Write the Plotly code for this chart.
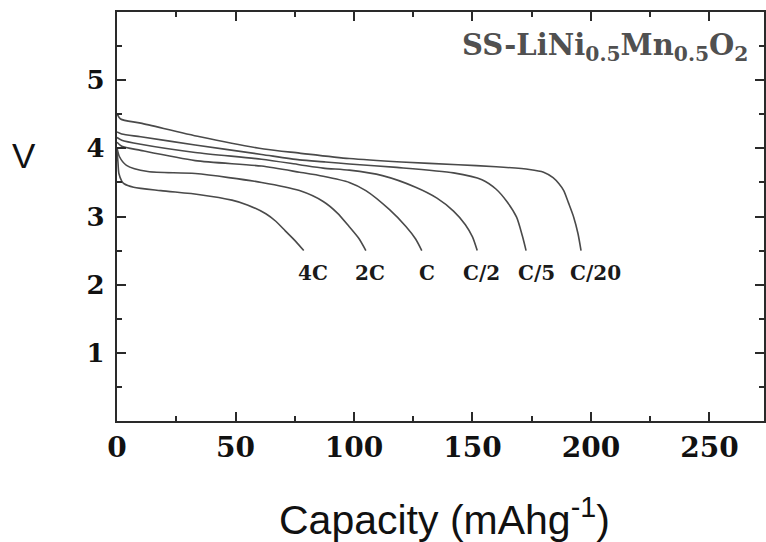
import plotly.graph_objects as go

# Discharge curves of SS-LiNi0.5Mn0.5O2 at different C-rates
rates = ["C/20", "C/5", "C/2", "C", "2C", "4C"]

cap_c20 = [0, 1.5, 10, 35, 62, 77, 98, 120, 144, 160, 174, 180, 184, 186.5, 188.5, 190.5, 192.7, 194.5, 195.8]
v_c20 = [4.51, 4.43, 4.37, 4.17, 3.99, 3.93, 3.85, 3.80, 3.76, 3.73, 3.69, 3.65, 3.57, 3.48, 3.38, 3.20, 2.99, 2.75, 2.50]

cap_c5 = [0, 2, 10, 33, 61, 77, 88, 98, 118, 142, 154, 160, 164.5, 168.6, 171, 172.6]
v_c5 = [4.24, 4.21, 4.17, 4.05, 3.91, 3.83, 3.80, 3.77, 3.72, 3.64, 3.54, 3.40, 3.22, 2.99, 2.72, 2.50]

cap_c2 = [0, 2, 10, 33, 61, 77, 87, 98, 112, 126, 135, 142, 147, 150, 152]
v_c2 = [4.16, 4.12, 4.06, 3.94, 3.84, 3.76, 3.71, 3.68, 3.60, 3.43, 3.27, 3.08, 2.88, 2.70, 2.50]

cap_c1 = [0, 2, 10, 33, 61, 77, 87, 98, 105, 115, 122, 126, 128.6]
v_c1 = [4.09, 4.03, 3.97, 3.82, 3.74, 3.65, 3.59, 3.50, 3.38, 3.10, 2.85, 2.67, 2.50]

cap_2c = [0, 1, 4, 13, 33, 61, 77, 87, 93, 98, 102, 105]
v_2c = [4.01, 3.88, 3.75, 3.66, 3.63, 3.50, 3.38, 3.22, 3.05, 2.85, 2.68, 2.50]

cap_4c = [0, 0.4, 0.8, 2, 3, 7, 18.5, 35, 48.5, 55, 62.8, 67, 71, 75, 78.8]
v_4c = [3.97, 3.80, 3.63, 3.52, 3.48, 3.43, 3.38, 3.32, 3.24, 3.17, 3.04, 2.93, 2.79, 2.65, 2.50]

caps = [cap_c20, cap_c5, cap_c2, cap_c1, cap_2c, cap_4c]
volts = [v_c20, v_c5, v_c2, v_c1, v_2c, v_4c]

# rate labels placed under the curve ends
label_x = [202, 177, 154, 130.8, 106.9, 82.5]
label_y = [2.17] * 6

x_ticks = [0, 50, 100, 150, 200, 250]
x_minor = [25, 75, 125, 175, 225]
y_ticks = [1, 2, 3, 4, 5]
y_minor = [0.5, 1.5, 2.5, 3.5, 4.5, 5.5]

serif = "DejaVu Serif"
sans = "Liberation Sans"
axis_col = "#2a2a2a"
curve_col = "#4a4a4a"

fig = go.Figure()
for name, cx, vy in zip(rates, caps, volts):
    fig.add_trace(go.Scatter(
        x=cx, y=vy, mode="lines", name=name,
        line=dict(color=curve_col, width=1.6, shape="spline", smoothing=0.7),
        showlegend=False, hoverinfo="skip",
    ))

for name, lx, ly in zip(rates, label_x, label_y):
    fig.add_annotation(x=lx, y=ly, xref="x", yref="y", text=name, showarrow=False,
                       font=dict(family=serif, size=20, color="#1a1a1a", weight="bold"),
                       xanchor="center", yanchor="middle")

fig.add_annotation(xref="paper", yref="paper", x=0.978, y=0.915,
                   text="SS-LiNi<sub>0.5</sub>Mn<sub>0.5</sub>O<sub>2</sub>",
                   showarrow=False, xanchor="right", yanchor="middle",
                   font=dict(family=serif, size=29, color="#505050", weight="bold"))

fig.add_annotation(xref="paper", yref="paper", x=-0.1435, y=0.65, text="V",
                   showarrow=False, xanchor="center", yanchor="middle",
                   font=dict(family=sans, size=35, color="#111111"))

fig.add_annotation(xref="paper", yref="paper", x=0.506, y=-0.235,
                   text="Capacity (mAhg<sup>-1</sup>)",
                   showarrow=False, xanchor="center", yanchor="middle",
                   font=dict(family=sans, size=41, color="#111111"))

fig.update_xaxes(
    range=[0, 273], tickmode="array", tickvals=x_ticks,
    ticks="inside", ticklen=9, tickwidth=1.6, tickcolor=axis_col,
    minor=dict(tickmode="array", tickvals=x_minor, ticks="inside", ticklen=5,
               tickwidth=1.6, tickcolor=axis_col),
    showline=True, linecolor=axis_col, linewidth=2.2, mirror="ticks",
    showgrid=False, zeroline=False, ticklabelstandoff=0,
    tickfont=dict(family=serif, size=28, color="#111111", weight="bold"),
)
fig.update_yaxes(
    range=[0, 6], tickmode="array", tickvals=y_ticks,
    ticks="inside", ticklen=9, tickwidth=1.6, tickcolor=axis_col,
    minor=dict(tickmode="array", tickvals=y_minor, ticks="inside", ticklen=5,
               tickwidth=1.6, tickcolor=axis_col),
    showline=True, linecolor=axis_col, linewidth=2.2, mirror="ticks",
    showgrid=False, zeroline=False, ticklabelstandoff=5,
    tickfont=dict(family=serif, size=26, color="#111111", weight="bold"),
)

fig.update_layout(
    width=766, height=542,
    margin=dict(l=117, r=0, t=12, b=121),
    paper_bgcolor="white", plot_bgcolor="white",
)

fig.write_html("out.html")
